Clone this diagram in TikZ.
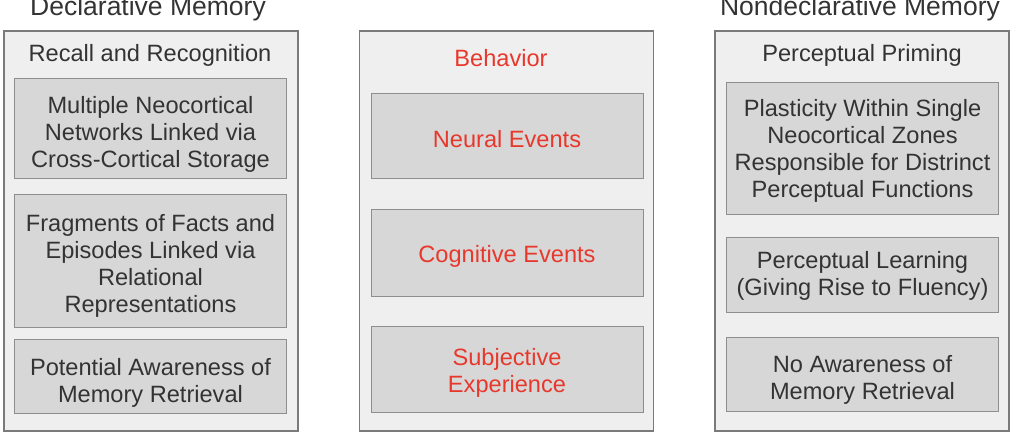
\documentclass[tikz,border=0pt]{standalone}
\usepackage{fontspec}
\setmainfont{Liberation Sans}
\usetikzlibrary{positioning}
\definecolor{panelgray}{HTML}{EFEFEF}
\definecolor{cellgray}{HTML}{D7D7D7}
\definecolor{edgegray}{HTML}{7A7A7A}
\definecolor{textgray}{HTML}{333333}
\definecolor{eventred}{HTML}{E8382C}
\begin{document}
\begin{tikzpicture}[
        x=1pt, y=-1pt,
        panel/.style={
            draw=edgegray, 
            fill=panelgray, 
            line width=1.3pt,
            minimum width=294pt,
            minimum height=400pt
        },
        cell/.style={
            draw=edgegray!85, 
            fill=cellgray, 
            line width=1pt,
            minimum width=272pt,
            inner sep=0pt,
            align=center,
            text=textgray,
            font=\fontsize{23.6}{27}\selectfont
        },
        head/.style={text=textgray, font=\fontsize{23.6}{27}\selectfont},
        title/.style={anchor=base, text=textgray, font=\fontsize{26.5}{30}\selectfont}
    ]
        \useasboundingbox (0,0) rectangle (1021,440);

        % Titles
        \node[title] (decl) at (148,15) {Declarative Memory};
        \node[title] (nondecl) at (860,15) {Nondeclarative Memory};

        % Left panel (text height > natural pushes the text down)
        \node[panel] (left) at (151,231) {};
        \node[head] (recall) at (150,55) {Recall and Recognition};
        \node[cell, text height=83.2pt, minimum height=100pt] (multi) at (150.5,128) {Multiple Neocortical\\Networks Linked via\\Cross-Cortical Storage};
        \node[cell, text height=108.2pt, minimum height=133pt] (frag) at (150.5,260.5) {Fragments of Facts and\\Episodes Linked via\\Relational\\Representations};
        \node[cell, text height=58.2pt, minimum height=74pt] (aware) at (150.5,376) {Potential Awareness of\\Memory Retrieval};

        % Middle panel
        \node[panel] (mid) at (506.5,231) {};
        \node[head, text=eventred] (behav) at (501,58) {Behavior};
        \node[cell, text height=23.3pt, minimum height=85pt, text=eventred] (neural) at (507,135.5) {Neural Events};
        \node[cell, text height=25.3pt, minimum height=87pt, text=eventred] (cogn) at (507,252.5) {Cognitive Events};
        \node[cell, text height=52.2pt, minimum height=86pt, text=eventred] (subj) at (507,369) {Subjective\\Experience};

        % Right panel
        \node[panel] (right) at (862,231) {};
        \node[head] (priming) at (862,55) {Perceptual Priming};
        \node[cell, text height=104.2pt, minimum height=132pt] (plast) at (862.5,148) {Plasticity Within Single\\Neocortical Zones\\Responsible for Distrinct\\Perceptual Functions};
        \node[cell, text height=46.2pt, minimum height=75pt] (learn) at (862.5,274.5) {Perceptual Learning\\(Giving Rise to Fluency)};
        \node[cell, text height=56.2pt, minimum height=74pt] (noaware) at (862.5,374) {No Awareness of\\Memory Retrieval};

    \end{tikzpicture}
\end{document}
